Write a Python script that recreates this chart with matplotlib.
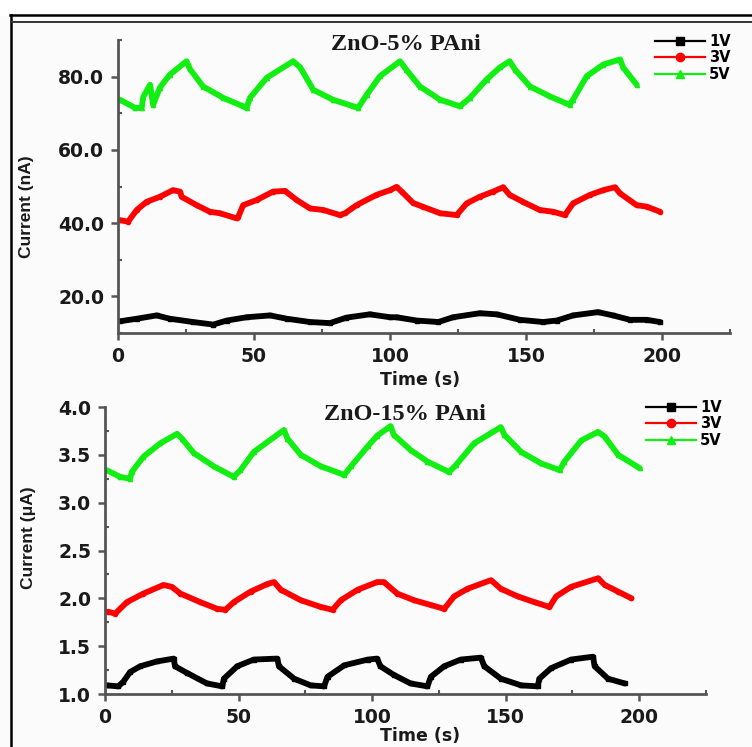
import numpy as np
import matplotlib.pyplot as plt
from matplotlib.ticker import MultipleLocator, FormatStrFormatter
from matplotlib.lines import Line2D

# ---- ZnO-5% PAni (nA) ----
t5_1v = [0.7, 6.9, 14.2, 19, 27.6, 35, 40, 47.3, 55.9, 62, 70.6, 77.9, 84, 92.6, 100,
         102.4, 109.8, 117.8, 123.2, 133, 139.2, 147.8, 156.3, 161.3, 167.3, 176.5, 182,
         188.2, 194.4, 199.3]
i5_1v = [13.2, 13.9, 14.8, 13.9, 13.0, 12.3, 13.4, 14.3, 14.8, 13.9, 13.0, 12.7, 14.2, 15.1, 14.3,
         14.3, 13.4, 13.0, 14.3, 15.4, 15.1, 13.6, 13.0, 13.4, 14.8, 15.7, 14.8,
         13.6, 13.6, 13.0]

t5_3v = [0.7, 3.7, 6.9, 10.5, 15.4, 20.2, 22.8, 23.4, 28.9, 33.8, 37.5, 43.6, 44.2, 46, 51, 57,
         61.4, 65.7, 70.6, 75.4, 81.6, 83.5, 87.7, 95, 100, 102.4, 104.3, 108.5, 112, 118.4,
         124.5, 128.2, 133, 137.9, 141.6, 144, 148.9, 155, 160, 164.3, 167.3, 173.5, 178.4,
         182.7, 184.6, 190.7, 194.4, 199.3]
i5_3v = [40.8, 40.4, 43.6, 45.8, 47.2, 49.0, 48.6, 47.2, 44.9, 43.1, 42.7, 41.3, 41.7, 44.9, 46.3, 48.6,
         48.8, 46.3, 44.0, 43.6, 42.2, 42.7, 44.9, 47.7, 49.0, 49.9, 48.6, 45.5, 44.5, 42.7,
         42.2, 45.4, 47.2, 48.6, 49.8, 47.7, 45.8, 43.6, 43.1, 42.2, 45.4, 47.7, 49.0,
         49.8, 48.1, 44.9, 44.5, 43.1]

t5_5v = [0.7, 6.2, 8.7, 9.3, 11.8, 12.9, 15.4, 19, 25.2, 26.5, 31.3, 38.7, 46, 47.3, 48.5, 54.7,
         64.4, 67, 71.8, 79, 86.5, 88.3, 91.4, 96.3, 103.7, 106, 111, 118.4, 125.7, 129.4,
         135.5, 140.4, 144, 146, 151.5, 158.8, 166, 167.3, 172.3, 178.4, 184.6, 185.7, 190.7]
i5_5v = [73.7, 71.5, 71.4, 74.5, 77.8, 72.3, 77.0, 80.5, 84.2, 82.0, 77.3, 74.2, 71.9, 71.5, 74.2, 79.7,
         84.2, 82.5, 76.4, 73.7, 71.9, 71.5, 75.0, 80.1, 84.2, 81.9, 77.3, 73.7, 71.9, 74.2,
         79.2, 82.5, 84.2, 81.9, 77.3, 74.6, 72.3, 73.7, 80.1, 83.3, 84.7, 82.5, 77.8]

# ---- ZnO-15% PAni (uA) ----
t15_1v = [0.6, 5, 6.9, 9.4, 13.2, 19.4, 25.7, 26.2, 30.7, 38.2, 43.9, 44.5, 49.5, 55.7, 64.5,
          65.1, 70.8, 77, 82, 83.3, 89.6, 98.4, 101.9, 103.1, 108.1, 114.4, 120.7, 122, 127,
          133.2, 140.7, 142, 148.2, 155.8, 162, 162.6, 167, 174.5, 182.7, 183.3, 188.3, 194.6]
i15_1v = [1.09, 1.08, 1.13, 1.23, 1.29, 1.34, 1.37, 1.29, 1.22, 1.11, 1.08, 1.16, 1.29, 1.36, 1.37,
          1.29, 1.16, 1.09, 1.08, 1.18, 1.30, 1.36, 1.37, 1.29, 1.20, 1.11, 1.08, 1.18, 1.29,
          1.36, 1.38, 1.29, 1.16, 1.09, 1.08, 1.16, 1.27, 1.36, 1.39, 1.29, 1.16, 1.11]

t15_3v = [1.2, 3.8, 8.2, 14.4, 21.9, 25, 28.2, 35.7, 42, 45.1, 48.2, 54.5, 60.8, 63.3, 65.8, 73.3,
          80.8, 85.2, 88.3, 94.6, 101.9, 104.4, 109.4, 115.7, 122, 127, 130.7, 135.7, 144.5,
          148.2, 154.5, 160.8, 166.4, 168.9, 174.5, 184.6, 187.1, 192.1, 197.1]
i15_3v = [1.86, 1.84, 1.96, 2.05, 2.14, 2.12, 2.05, 1.96, 1.89, 1.88, 1.96, 2.07, 2.15, 2.17, 2.09, 1.98,
          1.91, 1.88, 1.98, 2.09, 2.17, 2.17, 2.05, 1.98, 1.93, 1.89, 2.02, 2.10, 2.19,
          2.10, 2.02, 1.96, 1.91, 2.02, 2.12, 2.21, 2.14, 2.07, 2.00]

t15_5v = [0.6, 5.6, 9.4, 10, 14.4, 20.7, 27, 28.8, 33.2, 40.7, 48.2, 50.7, 55.7, 67, 68.3, 73.3,
          80.8, 89.6, 92.1, 98.4, 101.9, 106.9, 108.1, 114.4, 120.7, 128.8, 131.3, 138.2, 148.2,
          149.5, 155.8, 163.3, 170.2, 172, 178.3, 184.6, 187.1, 192.1, 200.2]
i15_5v = [3.34, 3.27, 3.25, 3.32, 3.48, 3.62, 3.72, 3.67, 3.52, 3.38, 3.27, 3.34, 3.53, 3.76, 3.67, 3.50,
          3.38, 3.29, 3.38, 3.59, 3.70, 3.80, 3.71, 3.55, 3.43, 3.32, 3.39, 3.62, 3.79,
          3.71, 3.53, 3.41, 3.34, 3.43, 3.65, 3.74, 3.69, 3.50, 3.36]

labels = ["1V", "3V", "5V"]
colors = ["black", "#ff0000", "#11ee11"]
markers = ["s", "o", "^"]

W, H = 752, 747
fig = plt.figure(figsize=(W / 100, H / 100), dpi=100)
fig.patch.set_facecolor("#fbfbfb")

TICK_FONT = dict(family="DejaVu Sans", weight="bold", size=13.5)
SPINE = "#555555"


def fx(px):
    return px / W


def fy(py):
    return 1 - py / H


def style_axes(ax):
    for s in ["top", "right"]:
        ax.spines[s].set_visible(False)
    for s in ["left", "bottom"]:
        ax.spines[s].set_color(SPINE)
        ax.spines[s].set_linewidth(2.0)
    ax.set_facecolor("none")
    ax.tick_params(which="major", direction="out", length=5, width=1.8, color=SPINE,
                   labelcolor="#1a1a1a", pad=5)
    ax.tick_params(which="minor", direction="in", length=3, width=1.5, color=SPINE)
    for lab in ax.get_xticklabels() + ax.get_yticklabels():
        lab.set_fontproperties(TICK_FONT)
        lab.set_fontweight("bold")


def draw(ax, series):
    for (t, v), c, m in zip(series, colors, markers):
        ax.plot(t, v, color=c, lw=4.2, marker=m, ms=3, mec=c, mfc=c,
                solid_joinstyle="round", solid_capstyle="round")


def legend(x0, y0):
    handles = [Line2D([], [], color=c, lw=1.6, marker=m, ms=6) for c, m in zip(colors, markers)]
    fig.legend(handles, labels, loc="upper left", bbox_to_anchor=(fx(x0), fy(y0)),
               frameon=False, borderpad=0, borderaxespad=0, handlelength=3.4,
               handletextpad=0.3, labelspacing=0.1, numpoints=1,
               prop=dict(family="DejaVu Sans", weight="bold", size=10.5))


# top panel
ax1 = fig.add_axes([fx(118), fy(333), fx(730) - fx(118), fy(40) - fy(333)])
draw(ax1, [(t5_1v, i5_1v), (t5_3v, i5_3v), (t5_5v, i5_5v)])
ax1.set_xlim(0, 225)
ax1.set_ylim(10, 90)
ax1.xaxis.set_major_locator(MultipleLocator(50))
ax1.xaxis.set_minor_locator(MultipleLocator(25))
ax1.yaxis.set_major_locator(MultipleLocator(20))
ax1.yaxis.set_minor_locator(MultipleLocator(10))
ax1.yaxis.set_major_formatter(FormatStrFormatter("%.1f"))
ax1.set_yticks([20, 40, 60, 80])
style_axes(ax1)

# bottom panel
ax2 = fig.add_axes([fx(105), fy(694), fx(706) - fx(105), fy(407) - fy(694)])
draw(ax2, [(t15_1v, i15_1v), (t15_3v, i15_3v), (t15_5v, i15_5v)])
ax2.set_xlim(0, 225)
ax2.set_ylim(1.0, 4.0)
ax2.xaxis.set_major_locator(MultipleLocator(50))
ax2.xaxis.set_minor_locator(MultipleLocator(25))
ax2.yaxis.set_major_locator(MultipleLocator(0.5))
ax2.yaxis.set_minor_locator(MultipleLocator(0.25))
ax2.yaxis.set_major_formatter(FormatStrFormatter("%.1f"))
style_axes(ax2)

# titles and labels
title_font = dict(family="Liberation Serif", weight="bold", size=17.5, color="#1a1a1a")
fig.text(fx(406), fy(45), "ZnO-5% PAni", ha="center", va="center", **title_font)
fig.text(fx(405), fy(415), "ZnO-15% PAni", ha="center", va="center", **title_font)

lab_font = dict(family="DejaVu Sans", weight="bold", size=12.5, color="#1a1a1a")
fig.text(fx(420), fy(380), "Time (s)", ha="center", va="center", **lab_font)
fig.text(fx(420), fy(736), "Time (s)", ha="center", va="center", **lab_font)
fig.text(fx(26), fy(207), "Current (nA)", ha="center", va="center", rotation=90,
         family="Liberation Sans", weight="bold", size=12.5, color="#1a1a1a")
fig.text(fx(28), fy(538), "Current (\u03bcA)", ha="center", va="center", rotation=90,
         family="Liberation Sans", weight="bold", size=12.5, color="#1a1a1a")

legend(655, 34)
legend(646, 400)

# outer frame: left border and double top line
fig.add_artist(Line2D([fx(11), fx(11)], [fy(15), fy(747)], color="black", lw=1.8))
fig.add_artist(Line2D([fx(10), fx(752)], [fy(15), fy(15)], color="black", lw=1.8))
fig.add_artist(Line2D([fx(11), fx(752)], [fy(22), fy(22)], color="#333333", lw=1.4))
fig.add_artist(plt.Rectangle((0, fy(15)), 1, 1 - fy(15), color="white", zorder=-1))

fig.savefig("out.png", dpi=100, facecolor=fig.get_facecolor())
